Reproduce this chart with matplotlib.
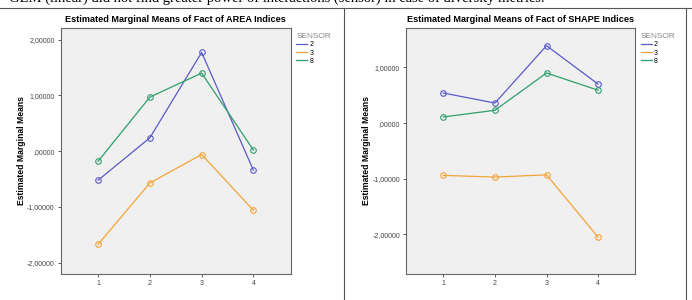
import numpy as np
import matplotlib
matplotlib.use("Agg")
import matplotlib.pyplot as plt
from matplotlib.lines import Line2D

plt.rcParams['font.family'] = ['Liberation Sans', 'DejaVu Sans']

# factor levels on the x axis
levels = [1, 2, 3, 4]
sensors = ['2', '3', '8']

# AREA indices, estimated marginal means per sensor
area_s2 = [-0.52, 0.24, 1.77, -0.34]
area_s3 = [-1.67, -0.57, -0.06, -1.06]
area_s8 = [-0.18, 0.97, 1.40, 0.02]

# SHAPE indices
shape_s2 = [0.54, 0.36, 1.39, 0.70]
shape_s3 = [-0.94, -0.97, -0.93, -2.05]
shape_s8 = [0.11, 0.23, 0.90, 0.59]

area_ticks = [2, 1, 0, -1, -2]
area_ticklabels = ['2,00000', '1,00000', ',00000', '-1,00000', '-2,00000']
shape_ticks = [1, 0, -1, -2]
shape_ticklabels = ['1,00000', ',00000', '-1,00000', '-2,00000']

colors = {'2': '#5a5ac8', '3': '#f2a43a', '8': '#2f9e6c'}

caption = "GLM (linear) did not find greater power of interactions (sensor) in case of diversity metrics."


def drawpanel(ax, series, title, yticks, yticklabels, ylim):
    ax.set_facecolor('#f0f0f0')
    for name, vals in zip(sensors, series):
        ax.plot(levels, vals, color=colors[name], lw=0.9, marker='o', ms=4,
                mfc='none', mew=0.8)
    ax.set_xlim(0.28, 4.72)
    ax.set_ylim(*ylim)
    ax.set_xticks(levels)
    ax.set_xticklabels([str(l) for l in levels])
    ax.set_yticks(yticks)
    ax.set_yticklabels(yticklabels)
    ax.tick_params(labelsize=5, colors='#444444', length=2.5, width=0.6, pad=2)
    for s in ax.spines.values():
        s.set_color('#666666')
        s.set_linewidth(0.8)
    ax.set_title(title, fontsize=6.6, fontweight='bold', pad=4)
    ax.set_ylabel('Estimated Marginal Means', fontsize=6.2, fontweight='bold',
                  labelpad=1)
    handles = [Line2D([0], [0], color=colors[n], lw=0.9) for n in sensors]
    leg = ax.legend(handles, sensors, title='SENSOR', loc='upper left',
                    bbox_to_anchor=(1.0, 1.0), frameon=False, fontsize=5,
                    title_fontsize=6, handlelength=1.6, handletextpad=0.3,
                    labelspacing=0.15, borderaxespad=0.4)
    leg.get_title().set_color('#888888')
    leg._legend_box.align = 'left'


fig = plt.figure(figsize=(6.92, 3.0), dpi=100)

ax1 = fig.add_axes([0.088, 0.087, 0.332, 0.82])
drawpanel(ax1, [area_s2, area_s3, area_s8],
          'Estimated Marginal Means of Fact of AREA Indices',
          area_ticks, area_ticklabels, (-2.2, 2.21))

ax2 = fig.add_axes([0.587, 0.087, 0.331, 0.82])
drawpanel(ax2, [shape_s2, shape_s3, shape_s8],
          'Estimated Marginal Means of Fact of SHAPE Indices',
          shape_ticks, shape_ticklabels, (-2.71, 1.71))

# table borders of the document
fig.add_artist(Line2D([0, 1], [0.975, 0.975], color='#555555', lw=0.8))
fig.add_artist(Line2D([344 / 692, 344 / 692], [0, 0.975], color='#555555', lw=0.8))
fig.add_artist(Line2D([686 / 692, 686 / 692], [0, 0.975], color='#555555', lw=0.8))

# cut off caption line above the table
fig.text(0.013, 1.005, caption, fontsize=10.5, family='Liberation Serif',
         va='center', ha='left')

fig.savefig('out.png', dpi=100)
